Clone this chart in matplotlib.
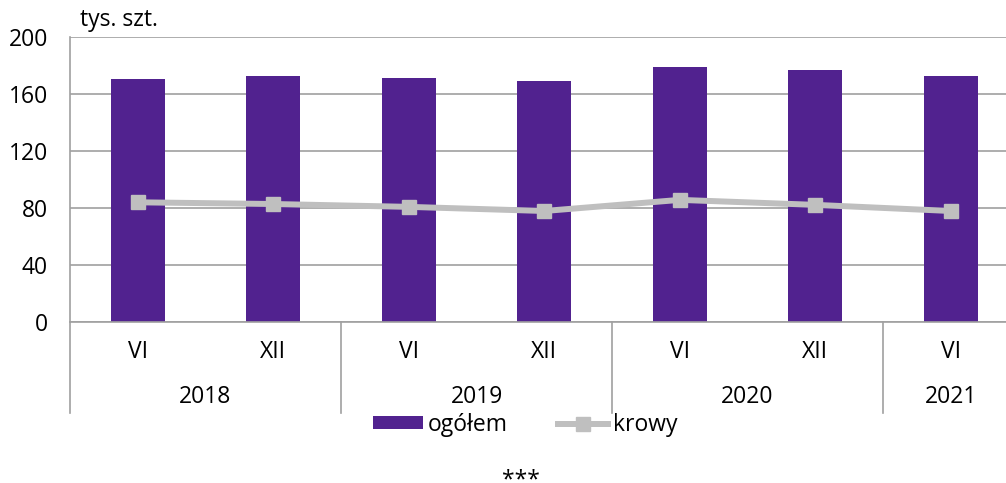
import matplotlib
matplotlib.use("Agg")
import matplotlib.pyplot as plt
from matplotlib.lines import Line2D
from matplotlib.patches import Patch

plt.rcParams['font.family'] = ['Open Sans', 'DejaVu Sans']

months = ["VI", "XII", "VI", "XII", "VI", "XII", "VI"]
years = ["2018", "2019", "2020", "2021"]
year_spans = [2, 2, 2, 1]
ogolem = [170.5, 172.6, 171.2, 169.1, 179.0, 176.8, 172.6]
krowy = [84.0, 82.8, 80.8, 77.9, 85.7, 82.2, 77.9]
yticks = [0, 40, 80, 120, 160, 200]

W, H = 1006, 483
fig = plt.figure(figsize=(W / 100, H / 100), dpi=100)
left, right, top, bottom = 70, 1018.5, 37, 322
ax = fig.add_axes([left / W, 1 - bottom / H, (right - left) / W, (bottom - top) / H])

purple = "#51228F"
gray = "#BFBFBF"
axgray = "#A0A0A0"

x = list(range(len(months)))
ax.bar(x, ogolem, width=0.4, color=purple, zorder=2)
ax.plot(x, krowy, color=gray, lw=4.3, marker="s", markersize=10, zorder=3)

ax.set_xlim(-0.5, len(months) - 0.5)
ax.set_ylim(0, 200)
ax.set_yticks(yticks)
ax.set_yticklabels([str(v) for v in yticks], fontsize=16.5)
ax.tick_params(axis="y", length=0, pad=16)
ax.set_xticks([])
ax.grid(axis="y", color=axgray, lw=1.2, zorder=0)
for s in ["top", "right"]:
    ax.spines[s].set_visible(False)
ax.spines["left"].set_color(axgray)
ax.spines["bottom"].set_color(axgray)
ax.spines["left"].set_linewidth(1.2)
ax.spines["bottom"].set_linewidth(1.2)

trans = ax.get_xaxis_transform()
ph = bottom - top
y_month = -(352 - bottom) / ph
y_year = -(397 - bottom) / ph
y_sep = -(413 - bottom) / ph

for xi, m in zip(x, months):
    ax.text(xi, y_month, m, transform=trans, ha="center", va="center", fontsize=16.5)

pos = -0.5
seps = [pos]
for yr, span in zip(years, year_spans):
    ax.text(pos + span / 2, y_year, yr, transform=trans, ha="center", va="center", fontsize=16.5)
    pos += span
    seps.append(pos)
for s in seps[:-1]:
    ax.add_line(Line2D([s, s], [0, y_sep], transform=trans, color=axgray, lw=1.2, clip_on=False))

fig.text(80 / W, 1 - 20 / H, "tys. szt.", ha="left", va="center", fontsize=16.5)

handles = [Patch(facecolor=purple, edgecolor="none"),
           Line2D([0], [0], color=gray, lw=4.3, marker="s", markersize=10)]
fig.legend(handles, ["ogółem", "krowy"], loc="center", ncol=2,
           bbox_to_anchor=(525 / W, 1 - 425 / H), frameon=False, fontsize=16.5,
           handlelength=2.2, handletextpad=0.2, columnspacing=2.2, handleheight=0.5)

fig.text(521 / W, 1 - 480 / H, "***", ha="center", va="center", fontsize=16.5)

fig.savefig("out.png", dpi=100)
